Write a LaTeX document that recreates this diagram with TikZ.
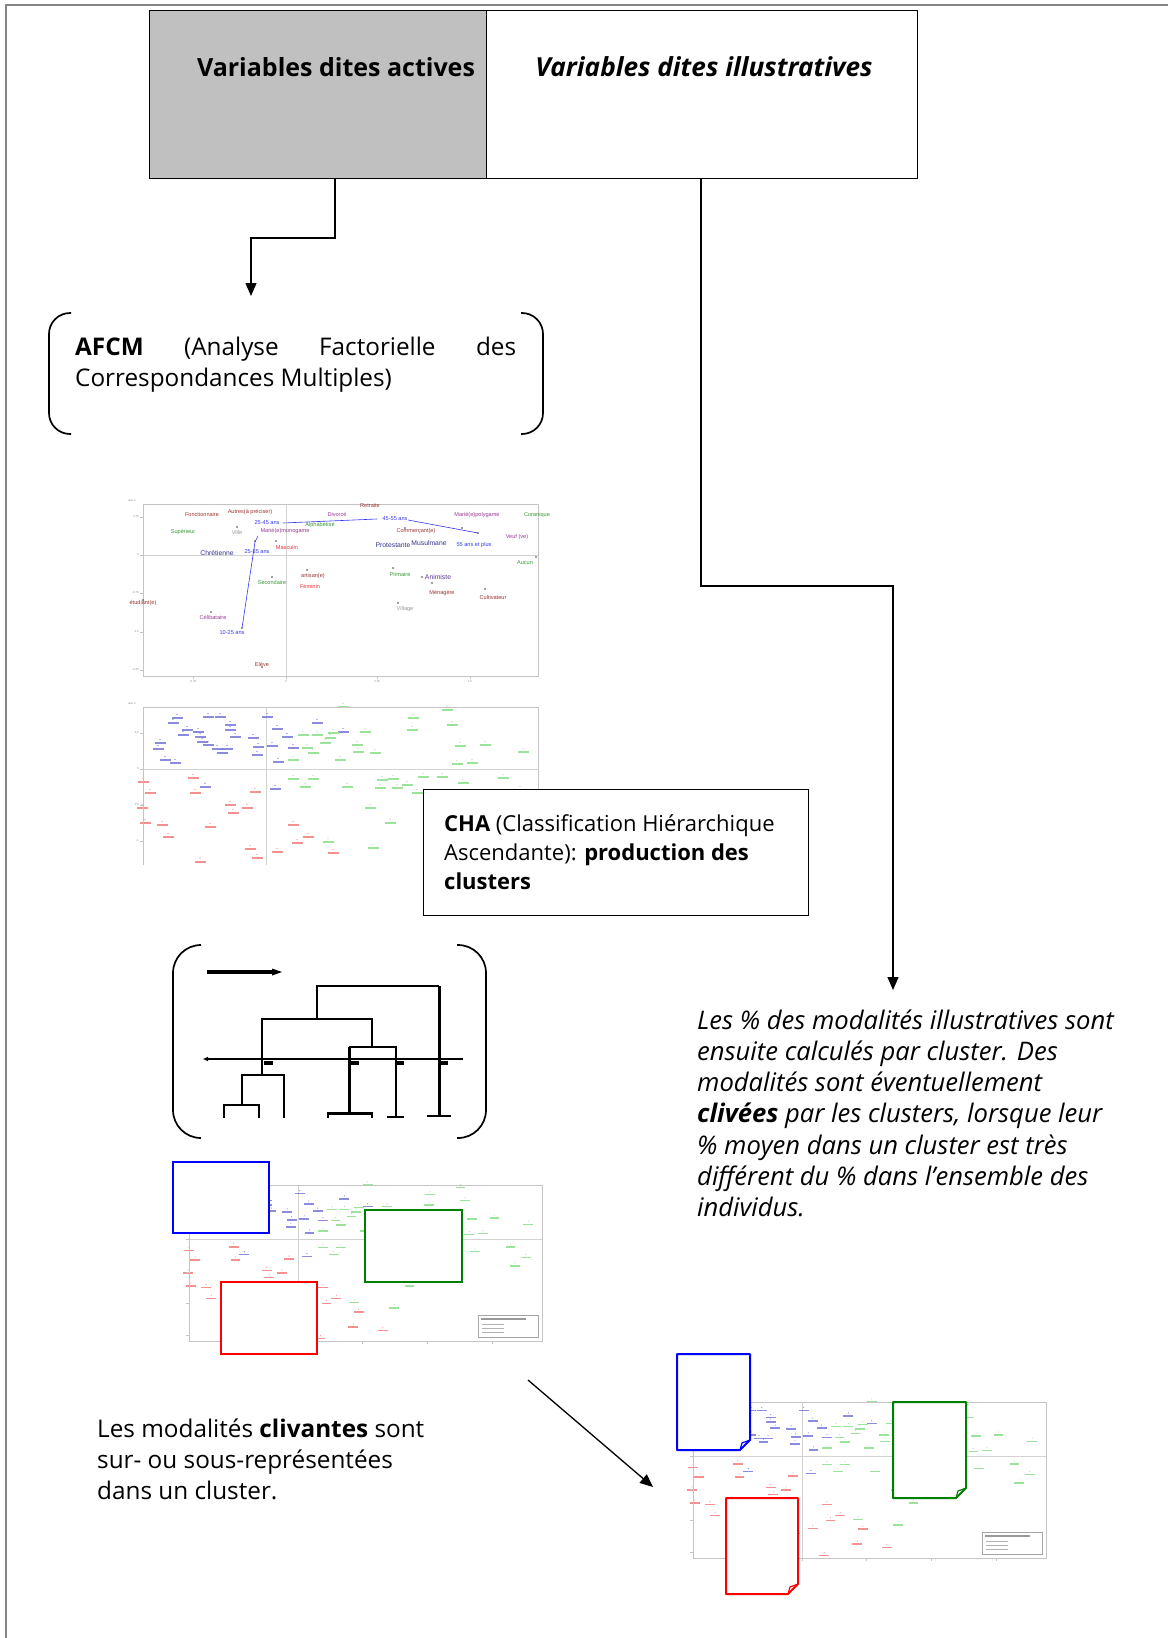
\documentclass[tikz,border=0pt]{standalone}
\usepackage{fontspec}
\setmainfont{Open Sans}
\newfontfamily\plotfont{Liberation Sans}
\usetikzlibrary{arrows.meta}

\definecolor{boxgray}{HTML}{C0C0C0}
\definecolor{framegray}{HTML}{858585}
\definecolor{axisgray}{HTML}{C4C4C4}
\definecolor{lbrown}{HTML}{9E3535}
\definecolor{lpurple}{HTML}{9A3A9A}
\definecolor{lnavy}{HTML}{33338F}
\definecolor{lblue}{HTML}{3535F0}
\definecolor{lgreen}{HTML}{3A9A3A}
\definecolor{lred}{HTML}{F03535}
\definecolor{lgray}{HTML}{999999}
\definecolor{indblue}{HTML}{7070D8}
\definecolor{indgreen}{HTML}{9AE39A}
\definecolor{indred}{HTML}{F58585}
\definecolor{cblue}{HTML}{0000FF}
\definecolor{cgreen}{HTML}{008000}
\definecolor{cred}{HTML}{FF0000}

% scatter of the individuals, in the coordinates of the second map
\newcommand\drawindividuals{%
  \foreach \px/\py in {177/718,173/723,187/730,198/732,183/735,200/737,208/717,220/717,
      230/725,230/730,235/737,160/743,158/749,202/742,208/745,217/749,227/749,222/753,
      253/738,267/717,277/729,287/737,272/746,258/747,257/755,293/748,317/723,343/732,
      165/760,175/763,278/762,205/787,275/789}{%
    \fill[indblue,opacity=.8] (\px-5.5,\py-0.8) rectangle (\px+5.5,\py+0.8);
    \fill[indblue] (\px,\py-3.5) circle (0.6);}
  \foreach \px/\py in {343/707,447/710,413/718,452/725,412/730,365/732,303/735,317/735,
      333/733,325/743,330/738,307/748,313/753,357/745,358/752,375/753,340/760,293/760,
      460/746,485/745,523/752,457/764,472/763,293/779,313/779,305/787,347/787,382/780,
      393/779,380/788,397/788,407/785,423/777,442/777,463/783,503/778,417/793,370/808,
      390/823,328/842,373/848,520/790,508/800}{%
    \fill[indgreen] (\px-5.5,\py-0.8) rectangle (\px+5.5,\py+0.8);
    \fill[indgreen] (\px,\py-3.5) circle (0.6);}
  \foreach \px/\py in {143/782,193/778,150/793,195/793,142/808,255/792,230/805,233/813,
      247/808,145/823,162/825,210/827,168/837,293/825,308/837,297/843,250/849,257/858,
      277/852,333/853,200/862,290/883,250/878,327/870,360/874}{%
    \fill[indred,opacity=.9] (\px-5.5,\py-0.8) rectangle (\px+5.5,\py+0.8);
    \fill[indred] (\px,\py-3.5) circle (0.6);}
}

% individuals map cut into three clusters, placed at its own position
\newcommand\drawclustermap{%
  \draw[axisline] (189,1239) -- (542,1239);
  \draw[axisline] (298,1185) -- (298,1341);
  \begin{scope}[shift={(189,1185)},xscale=0.893,yscale=0.871,shift={(-143,-707)}]
    \drawindividuals
  \end{scope}
  \draw[axisframe] (189,1185) rectangle (542,1341);
  \foreach \ty in {1207,1239,1272,1303,1335} \draw[axisframe] (186,\ty) -- (189,\ty);
  \foreach \tx in {298,362,427,492} \draw[axisframe] (\tx,1341) -- (\tx,1344);
  \filldraw[fill=white,draw=gray!70,line width=0.6pt] (478,1315) rectangle (538,1337);
  \fill[gray!80] (481,1318) rectangle (526,1319.5);
  \foreach \ly in {1324,1328,1332} \fill[gray!60] (482,\ly) rectangle (504,\ly+1.2);
}

% folded sheet drawn over the last map
\newcommand\drawsheet[5]{%
  \filldraw[fill=white,draw=#1,line width=2pt,line join=round]
    (#2,#3) -- (#4,#3) -- (#4,#5-10) -- (#4-10,#5) -- (#2,#5) -- cycle;
  \draw[#1,line width=1.2pt] (#4-10,#5) -- (#4-8,#5-7) -- (#4,#5-10);
}

\begin{document}
\begin{tikzpicture}[x=1pt,y=-1pt,
  headbox/.style={draw=black,line width=1.4pt,inner sep=0,anchor=north west},
  headtext/.style={inner sep=0,font=\bfseries\fontsize{25}{30}\selectfont},
  conn/.style={draw=black,line width=1.3pt,-{Triangle[length=13pt,width=11pt]}},
  bracketline/.style={draw=black,line width=1.7pt},
  bodytext/.style={inner sep=0,align=left,anchor=north west},
  dendro/.style={draw=black,line width=1.3pt},
  dendrothick/.style={draw=black,line width=3pt},
  axisframe/.style={draw=axisgray,line width=1pt},
  axisline/.style={draw=axisgray!75,line width=0.7pt},
  lab/.style={font=\plotfont\fontsize{5.6}{6}\selectfont,inner sep=0},
  biglab/.style={font=\plotfont\fontsize{6.8}{7}\selectfont,inner sep=0},
  ticklab/.style={font=\plotfont\fontsize{2.8}{3}\selectfont,text=gray,inner sep=0},
  cluster/.style={fill=white,line width=2.4pt}]

\useasboundingbox (0,0) rectangle (1168,1638);
\fill[white] (0,0) rectangle (1168,1638);

% page frame
\draw[framegray,line width=2pt] (6,1638) -- (6,5) -- (1168,5);

% the two groups of variables
\node[headbox,fill=boxgray,minimum width=337pt,minimum height=168pt] (active) at (149,10) {};
\node[headbox,fill=white,minimum width=431pt,minimum height=168pt] (illus) at (486,10) {};
\node[headtext] (activetxt) at (336,67) {Variables dites actives};
\node[headtext,font=\bfseries\itshape\fontsize{26.2}{30}\selectfont] (illustxt) at (704,67) {Variables dites illustratives};

% connectors from the two groups
\coordinate (leftdrop) at (335,238);
\coordinate (afcmtip) at (251,296);
\draw[conn] (active.south -| leftdrop) |- (afcmtip |- leftdrop) -- (afcmtip);
\coordinate (rightdrop) at (701,586);
\coordinate (clivtip) at (893,990);
\draw[conn] (illus.south -| rightdrop) |- (clivtip |- rightdrop) -- (clivtip);

% AFCM between round brackets
\draw[bracketline,rounded corners=21pt] (71,313) -- (49,313) -- (49,434) -- (71,434);
\draw[bracketline,rounded corners=21pt] (521,313) -- (543,313) -- (543,434) -- (521,434);
\node[bodytext,font=\fontsize{24.3}{31}\selectfont] (afcm) at (75,336.5)
  {\makebox[441pt][s]{\textbf{AFCM} (Analyse Factorielle des}\\Correspondances Multiples)};

% factor map of the modalities
\draw[axisline] (143,555) -- (538,555);
\draw[axisline] (286,504) -- (286,676);
\draw[axisframe] (143,504) rectangle (538,676);
\foreach \ty/\tl in {517/0.75,555/0,593/-0.75,632/-1.5,670/-2.25}{
  \draw[axisframe] (140,\ty) -- (143,\ty);
  \node[ticklab,anchor=east] at (139,\ty) {\tl};}
\foreach \tx/\tl in {193/-0.75,286/0,377/0.75,470/1.5}{
  \draw[axisframe] (\tx,676) -- (\tx,679);
  \node[ticklab] at (\tx,682) {\tl};}
\node[ticklab] (axe1) at (132,501) {Axe 2};
\draw[lblue,line width=0.6pt] (242,628) -- (255,542) -- (258,536);
\draw[lblue,line width=0.6pt] (283,523) -- (377,519);
\draw[lblue,line width=0.6pt] (408,520) -- (478,533);
\foreach \dx/\dy in {143/600,211/612,262/667,237/527,272/577,307/570,405/528,478/533,
    462/528,536/557,393/568,422/577,432/583,485/589,398/603,276/541,255/541,242/628}
  \fill[black!75] (\dx,\dy) circle (0.9);
\node[lab,text=lbrown] at (370,505) {Retraite};
\node[lab,text=lbrown] at (202,514) {Fonctionnaire};
\node[lab,text=lbrown] at (250,512) {Autres(à préciser)};
\node[lab,text=lpurple] at (337,514) {Divorcé};
\node[lab,text=lblue] at (395,519) {45-55 ans};
\node[lab,text=lpurple] at (477,515) {Marié(e)polygame};
\node[lab,text=lgreen] at (537,515) {Coranique};
\node[lab,text=lblue] at (267,523) {25-45 ans};
\node[lab,text=lgreen] at (320,525) {Alphabétisé};
\node[lab,text=lgreen] at (183,532) {Supérieur};
\node[lab,text=lgray] at (237,532) {Ville};
\node[lab,text=lpurple] at (285,531) {Marié(e)monogame};
\node[lab,text=lbrown] at (416,531) {Commerçant(e)};
\node[lab,text=lpurple] at (517,537) {Veuf (ve)};
\node[biglab,text=lnavy] at (217,553) {Chrétienne};
\node[lab,text=lblue] at (257,552) {25-35 ans};
\node[lab,text=lred] at (287,547) {Masculin};
\node[biglab,text=lnavy] at (393,545) {Protestante};
\node[biglab,text=lnavy] at (429,543) {Musulmane};
\node[lab,text=lblue] at (474,545) {55 ans et plus};
\node[lab,text=lgreen] at (525,563) {Aucun};
\node[lab,text=lgreen] at (272,582) {Secondaire};
\node[lab,text=lbrown] at (313,576) {artisan(e)};
\node[lab,text=lred] at (310,586) {Féminin};
\node[lab,text=lgreen] at (400,574) {Primaire};
\node[biglab,text=lnavy!60!lpurple] at (438,577) {Animiste};
\node[lab,text=lbrown] at (442,593) {Ménagère};
\node[lab,text=lbrown] at (493,597) {Cultivateur};
\node[lab,text=lbrown] at (143,603) {étudiant(e)};
\node[lab,text=lgray] at (405,609) {Village};
\node[lab,text=lpurple] at (213,617) {Célibataire};
\node[lab,text=lblue] at (232,633) {10-25 ans};
\node[lab,text=lbrown] at (262,664) {Elève};

% factor map of the individuals, cut at the bottom
\begin{scope}
  \clip (125,695) rectangle (560,865);
  \draw[axisline] (143,769) -- (538,769);
  \draw[axisline] (266,707) -- (266,865);
  \drawindividuals
  \draw[axisframe] (143,865) -- (143,707) -- (538,707) -- (538,865);
  \foreach \ty/\tl in {733/0.5,769/0,805/-0.5,841/-1}{
    \draw[axisframe] (140,\ty) -- (143,\ty);
    \node[ticklab,anchor=east] at (139,\ty) {\tl};}
  \node[ticklab] (axe2) at (132,704) {Axe 2};
\end{scope}

% CHA
\node[headbox,fill=white,line width=1.3pt,minimum width=385pt,minimum height=126pt] (cha) at (423,789) {};
\node[bodytext,font=\fontsize{22}{29}\selectfont] (chatxt) at (444,814)
  {\textbf{CHA} (Classification Hiérarchique\\Ascendante): \textbf{production des}\\\textbf{clusters}};

% dendrogram between round brackets
\draw[bracketline,rounded corners=28pt] (201,945) -- (173,945) -- (173,1138) -- (201,1138);
\draw[bracketline,rounded corners=28pt] (457,945) -- (486,945) -- (486,1138) -- (457,1138);
\draw[line width=3.2pt] (207,972) -- (274,972);
\fill (272,968.5) -- (282,972) -- (272,975.5) -- cycle;
\draw[dendro] (317,1019) -- (317,986) -- (439,986);
\draw[dendrothick] (439,986) -- (439,1117);
\draw[dendro] (262,1075) -- (262,1019) -- (372,1019) -- (372,1047);
\draw[dendro] (349,1047) -- (396,1047) -- (396,1118);
\draw[dendrothick] (349,1047) -- (349,1113);
\draw[dendro] (242,1105) -- (242,1075) -- (284,1075) -- (284,1118);
\draw[dendro] (224,1118) -- (224,1105) -- (259,1105) -- (259,1118);
\draw[dendrothick] (327,1113) -- (373,1113);
\draw[dendro] (328,1113) -- (328,1118);
\draw[dendro] (372,1113) -- (372,1118);
\draw[dendro] (387,1117) -- (404,1117);
\draw[dendro] (427,1116) -- (451,1116);
\draw[dendro,{Triangle[length=5pt,width=4pt]}-] (203,1059) -- (463,1059);
\foreach \bx in {264,350,395,439} \fill (\bx,1060.5) rectangle (\bx+9,1065);

% individuals in three clusters
\drawclustermap
\draw[cluster,draw=cblue] (173,1162) rectangle (269,1233);
\draw[cluster,draw=cgreen] (365,1210) rectangle (462,1282);
\draw[cluster,draw=cred] (221,1282) rectangle (317,1354);

% the percentages computed per cluster
\node[bodytext,font=\itshape\fontsize{25.6}{31.2}\selectfont] (clivtxt) at (697,1009.5)
  {Les \% des modalités illustratives sont\\ensuite calculés par cluster. Des\\modalités sont éventuellement\\\textbf{clivées} par les clusters, lorsque leur\\\% moyen dans un cluster est très\\différent du \% dans l’ensemble des\\individus.};

\node[bodytext,font=\fontsize{24.3}{31}\selectfont] (clivante) at (97,1419)
  {Les modalités \textbf{clivantes} sont\\sur- ou sous-représentées\\dans un cluster.};

% clusters turned into sheets
\begin{scope}[shift={(504,217)}]
  \drawclustermap
\end{scope}
\drawsheet{cblue}{677}{1354}{750}{1450}
\drawsheet{cgreen}{893}{1402}{966}{1498}
\drawsheet{cred}{726}{1498}{798}{1594}

\coordinate (diagfrom) at (528,1380);
\coordinate (diagto) at (653,1487);
\draw[conn] (diagfrom) -- (diagto);
\end{tikzpicture}
\end{document}
